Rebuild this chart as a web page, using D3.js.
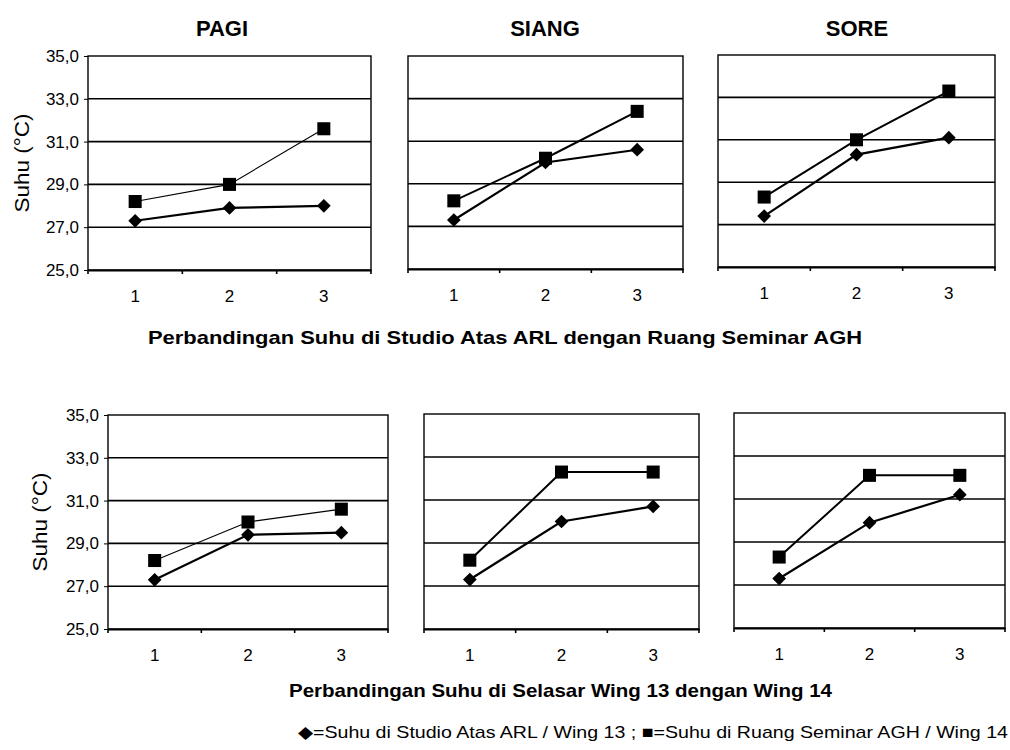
<!DOCTYPE html>
<html>
<head>
<meta charset="utf-8">
<script src="https://cdn.jsdelivr.net/npm/d3@7"></script>
<style>
  body { margin: 0; background: #fff; }
  svg { display: block; font-family: "Liberation Sans", Arial, sans-serif; }
</style>
</head>
<body>
<div id="chart"></div>
<script>
// Daten
const categories = ["1", "2", "3"];
const yTicks = [25, 27, 29, 31, 33, 35];
const periods = ["PAGI", "SIANG", "SORE"];

// oben: Studio Atas ARL (Raute) vs Ruang Seminar AGH (Quadrat)
const arlPagi = [27.3, 27.9, 28.0];
const aghPagi = [28.2, 29.0, 31.6];
const arlSiang = [27.3, 30.0, 30.6];
const aghSiang = [28.2, 30.2, 32.4];
const arlSore = [27.4, 30.3, 31.1];
const aghSore = [28.3, 31.0, 33.3];

// unten: Selasar Wing 13 (Raute) vs Wing 14 (Quadrat)
const wing13Pagi = [27.3, 29.4, 29.5];
const wing14Pagi = [28.2, 30.0, 30.6];
const wing13Siang = [27.3, 30.0, 30.7];
const wing14Siang = [28.2, 32.3, 32.3];
const wing13Sore = [27.3, 29.9, 31.2];
const wing14Sore = [28.3, 32.1, 32.1];

const titleTop = "Perbandingan Suhu di Studio Atas ARL dengan Ruang Seminar AGH";
const titleBottom = "Perbandingan Suhu di Selasar Wing 13 dengan Wing 14";
const legendText = "\u25C6=Suhu di Studio Atas ARL / Wing 13 ; \u25A0=Suhu di Ruang Seminar AGH / Wing 14";

// Panels (Layout)
const panels = [
  { box: [88, 371, 56, 270], a: arlPagi, b: aghPagi, yAxis: true, thinB: true, labelX: 22 },
  { box: [408, 683, 56, 269], a: arlSiang, b: aghSiang },
  { box: [718, 995, 55, 267], a: arlSore, b: aghSore },
  { box: [108, 388, 415, 629], a: wing13Pagi, b: wing14Pagi, yAxis: true, thinB: true, labelX: 40 },
  { box: [424, 699, 414, 629], a: wing13Siang, b: wing14Siang },
  { box: [734, 1005, 413, 628], a: wing13Sore, b: wing14Sore },
];

const svg = d3.select("#chart").append("svg")
  .attr("width", 1010)
  .attr("height", 750);

panels.forEach((p, pi) => {
  const [x0, x1, y0, y1] = p.box;
  const x = d3.scaleBand().domain(categories).range([x0, x1]);
  const y = d3.scaleLinear().domain([25, 35]).range([y1, y0]);
  const g = svg.append("g");

  // Gitterlinien
  g.selectAll("line.grid")
    .data(yTicks.slice(1, -1))
    .join("line")
    .attr("x1", x0).attr("x2", x1)
    .attr("y1", d => y(d)).attr("y2", d => y(d))
    .attr("stroke", "#000").attr("stroke-width", 1.6);

  // Rahmen
  g.append("rect")
    .attr("x", x0).attr("y", y0)
    .attr("width", x1 - x0).attr("height", y1 - y0)
    .attr("fill", "none").attr("stroke", "#000").attr("stroke-width", 1.4);

  // x-Achse
  const xAxis = d3.axisBottom(x).tickSize(0).tickPadding(20);
  const ax = g.append("g").attr("transform", `translate(0,${y1})`).call(xAxis)
    .attr("font-family", null);
  ax.select(".domain").attr("stroke-width", 2);
  ax.selectAll(".tick text").style("font-size", "17px").attr("fill", "#000");
  g.selectAll("line.xt")
    .data(categories.concat([null]))
    .join("line")
    .attr("x1", (d, i) => d ? x(d) : x1)
    .attr("x2", (d, i) => d ? x(d) : x1)
    .attr("y1", y1).attr("y2", y1 + 4)
    .attr("stroke", "#000").attr("stroke-width", 1.6);

  if (p.yAxis) {
    const yAxis = d3.axisLeft(y).tickValues(yTicks).tickSize(4).tickPadding(5)
      .tickFormat(d => d3.format(".1f")(d).replace(".", ","));
    const ay = g.append("g").attr("transform", `translate(${x0},0)`).call(yAxis)
      .attr("font-family", null);
    ay.select(".domain").remove();
    ay.selectAll("text").style("font-size", "17px").attr("fill", "#000");
    g.append("text")
      .attr("transform", `translate(${p.labelX},${(y0 + y1) / 2}) rotate(-90)`)
      .attr("text-anchor", "middle")
      .attr("dy", "0.35em")
      .attr("font-size", 20)
      .attr("textLength", 99)
      .attr("lengthAdjust", "spacingAndGlyphs")
      .text("Suhu (\u00B0C)");
  }

  const cx = d => x(d) + x.bandwidth() / 2;
  const line = d3.line().x((d, i) => cx(categories[i])).y(d => y(d));

  g.append("path").datum(p.b)
    .attr("d", line).attr("fill", "none")
    .attr("stroke", "#000").attr("stroke-width", p.thinB ? 1.1 : 2);
  g.append("path").datum(p.a)
    .attr("d", line).attr("fill", "none")
    .attr("stroke", "#000").attr("stroke-width", 2.2);

  g.selectAll("path.sq")
    .data(p.b)
    .join("path")
    .attr("d", d3.symbol(d3.symbolSquare, 170))
    .attr("transform", (d, i) => `translate(${cx(categories[i])},${y(d)})`)
    .attr("fill", "#000");
  g.selectAll("path.dm")
    .data(p.a)
    .join("path")
    .attr("d", d3.symbol(d3.symbolDiamond2, 120))
    .attr("transform", (d, i) => `translate(${cx(categories[i])},${y(d)})`)
    .attr("fill", "#000");
});

// Titel
const titleX = [222, 545, 857];
svg.selectAll("text.period")
  .data(periods)
  .join("text")
  .attr("x", (d, i) => titleX[i])
  .attr("y", 36)
  .attr("text-anchor", "middle")
  .attr("font-size", 22)
  .attr("font-weight", "bold")
  .text(d => d);

svg.append("text")
  .attr("x", 148).attr("y", 344)
  .attr("font-size", 19).attr("font-weight", "bold")
  .attr("textLength", 714)
  .attr("lengthAdjust", "spacingAndGlyphs")
  .text(titleTop);

svg.append("text")
  .attr("x", 289).attr("y", 697)
  .attr("font-size", 19).attr("font-weight", "bold")
  .attr("textLength", 543)
  .attr("lengthAdjust", "spacingAndGlyphs")
  .text(titleBottom);

svg.append("text")
  .attr("x", 298).attr("y", 738)
  .attr("font-size", 17)
  .attr("textLength", 710)
  .attr("lengthAdjust", "spacingAndGlyphs")
  .text(legendText);
</script>
</body>
</html>
